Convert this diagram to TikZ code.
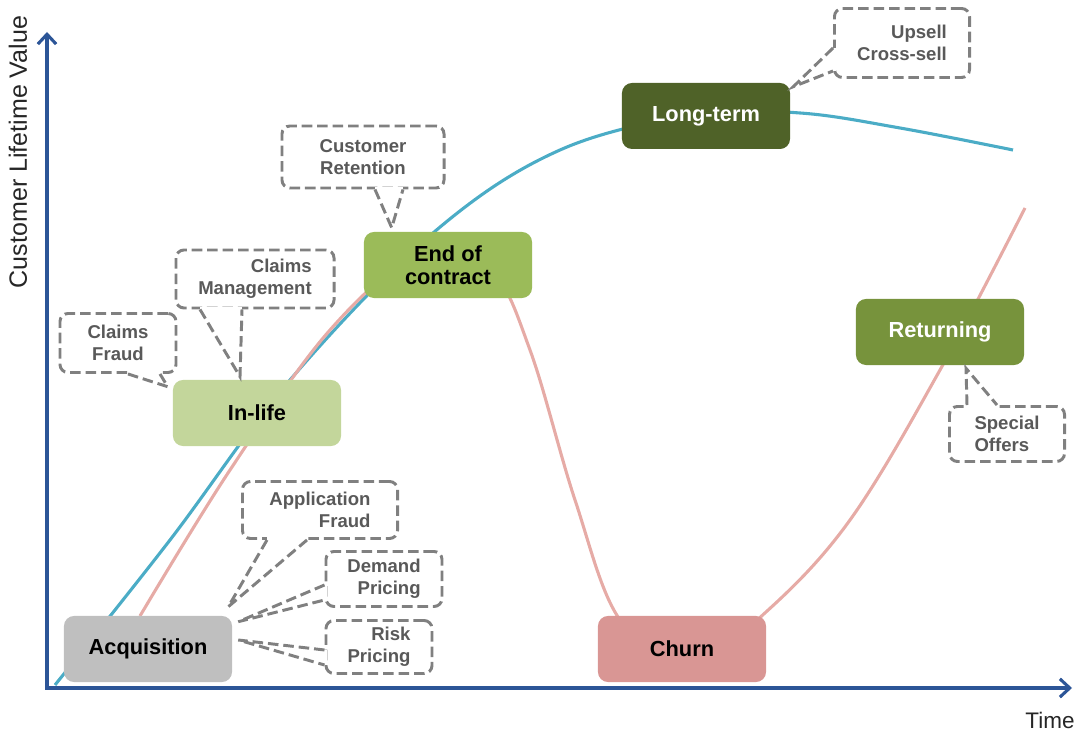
\documentclass[tikz,border=0pt]{standalone}
\usepackage{fontspec}
\setmainfont{Liberation Sans}
\usetikzlibrary{calc,arrows.meta}
\definecolor{axisblue}{HTML}{2C5597}
\definecolor{lifeblue}{HTML}{4BACC6}
\definecolor{churnpink}{HTML}{E6ABA6}
\definecolor{bubblegrey}{HTML}{808080}
\definecolor{bubbletext}{HTML}{595959}
\definecolor{acqgrey}{HTML}{BFBFBF}
\definecolor{inlifegreen}{HTML}{C3D69B}
\definecolor{eocgreen}{HTML}{9BBB59}
\definecolor{longgreen}{HTML}{4F6228}
\definecolor{retgreen}{HTML}{77933C}
\definecolor{churnred}{HTML}{D99694}
\newcommand{\bubbletail}[3]{\draw[gap] #1 -- #3; \draw[tail] #1 -- #2 -- #3;}
\begin{document}
\begin{tikzpicture}[x=0.025cm, y=0.025cm,
    stage/.style={rounded corners=0.25cm, minimum width=4.2cm, minimum height=1.65cm,
        font=\fontsize{15.5}{16}\selectfont\bfseries, align=center},
    bubble/.style={draw=bubblegrey, fill=white, line width=2.1pt,
        dash pattern=on 7.5pt off 3.5pt, rounded corners=0.2cm, text=bubbletext,
        font=\fontsize{13.2}{15.6}\selectfont\bfseries},
    tail/.style={draw=bubblegrey, line width=2.1pt, dash pattern=on 7.5pt off 3.5pt},
    gap/.style={draw=white, line width=3.6pt},
    curve/.style={line width=2.2pt, smooth, tension=0.6},
    axis/.style={draw=axisblue, line width=2.2pt, line join=miter,
        {Straight Barb[length=7pt,width=13pt]}-{Straight Barb[length=7pt,width=13pt]}}]
    \useasboundingbox (0, 0) rectangle (1079, 736);
    \draw[curve, lifeblue] plot coordinates {(55, 51) (170, 196) (290, 356) (433, 503)
        (560, 586) (700, 622) (800, 623) (900, 608) (1013, 586)};
    \draw[curve, churnpink] plot coordinates {(140, 120) (230, 266) (330, 406) (420, 481)
        (490, 466) (530, 386) (575, 236) (620, 116) (690, 71) (766, 124) (850, 216)
        (940, 366) (1025, 528)};
    \coordinate (origin) at (47, 48);
    \coordinate (ytip) at (47, 704);
    \coordinate (xtip) at (1072, 48);
    \draw[axis] (ytip) -- (origin) -- (xtip);
    \node[rotate=90, text=black!85, font=\fontsize{17.8}{18}\selectfont] (ylabel) at (18, 584) {Customer Lifetime Value};
    \node[text=black!85, font=\fontsize{16}{18}\selectfont] (xlabel) at (1050, 16) {Time};
    \node[stage, fill=acqgrey] (acq) at (148, 87) {Acquisition};
    \node[stage, fill=inlifegreen] (inlife) at (257, 323) {In-life};
    \node[stage, fill=eocgreen] (eoc) at (448, 471) {End of\\contract};
    \node[stage, fill=longgreen, text=white] (longterm) at (706, 620) {Long-term};
    \node[stage, fill=retgreen, text=white] (returning) at (940, 404) {Returning};
    \node[stage, fill=churnred] (churn) at (682, 87) {Churn};
    \node[bubble, align=right, minimum width=3.375cm, minimum height=1.725cm] (upsell) at (902, 693) {Upsell\\Cross-sell};
    \node[bubble, align=center, minimum width=4.05cm, minimum height=1.55cm] (retention) at (363, 579) {Customer\\Retention};
    \node[bubble, align=right, minimum width=3.95cm, minimum height=1.45cm] (claimsmgmt) at (255, 457) {Claims\\Management};
    \node[bubble, align=center, minimum width=2.9cm, minimum height=1.475cm] (claimsfraud) at (118, 393) {Claims\\Fraud};
    \node[bubble, align=right, minimum width=3.875cm, minimum height=1.425cm] (appfraud) at (320, 226) {Application\\Fraud};
    \node[bubble, align=right, minimum width=2.9cm, minimum height=1.375cm] (demand) at (384, 157) {Demand\\Pricing};
    \node[bubble, align=right, minimum width=2.65cm, minimum height=1.325cm] (risk) at (379, 89) {Risk\\Pricing};
    \node[bubble, align=left, minimum width=2.875cm, minimum height=1.375cm] (offers) at (1007, 302) {Special\\Offers};
    \bubbletail{($(upsell.west)+(0, -5)$)}{($(longterm.north east)+(3, -4)$)}{($(upsell.south west)+(0, 8)$)}
    \bubbletail{($(retention.south)+(12, 0)$)}{($(eoc.north west)+(28, 4)$)}{($(retention.south)+(40, 0)$)}
    \bubbletail{($(claimsmgmt.south)+(-55, 0)$)}{($(inlife.north)+(-17, 3)$)}{($(claimsmgmt.south)+(-13, 0)$)}
    \bubbletail{($(claimsfraud.south)+(10, 0)$)}{($(inlife.north west)+(-5, -7)$)}{($(claimsfraud.south)+(42, 0)$)}
    \bubbletail{($(appfraud.south)+(-53, 0)$)}{($(acq.north east)+(-4, 9)$)}{($(appfraud.south)+(-13, 0)$)}
    \bubbletail{($(demand.west)+(0, -6)$)}{($(acq.north east)+(6, -6)$)}{($(demand.west)+(0, -21)$)}
    \bubbletail{($(risk.west)+(0, -3)$)}{($(acq.east)+(6, 9)$)}{($(risk.west)+(0, -18)$)}
    \bubbletail{($(offers.north)+(-40, 0)$)}{($(returning.south)+(26, -3)$)}{($(offers.north)+(-10, 0)$)}
\end{tikzpicture}
\end{document}
